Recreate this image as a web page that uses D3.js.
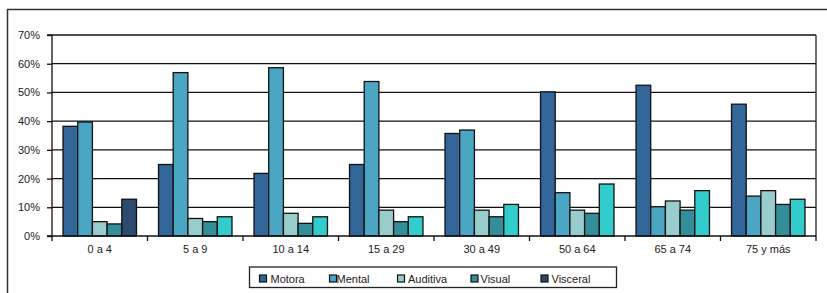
<!DOCTYPE html>
<html><head><meta charset="utf-8">
<script src="https://cdn.jsdelivr.net/npm/d3@7"></script>
<style>
html,body{margin:0;padding:0;background:#fff;}
svg{display:block;font-family:"Liberation Sans",Arial,sans-serif;}
</style></head>
<body><svg id="c" width="827" height="293"></svg>
<script>
const categories = ["0 a 4","5 a 9","10 a 14","15 a 29","30 a 49","50 a 64","65 a 74","75 y más"];
const seriesNames = ["Motora","Mental","Auditiva","Visual","Visceral"];
const motora   = [38.2, 24.9, 21.8, 24.9, 35.7, 50.2, 52.5, 45.9];
const mental   = [39.7, 56.9, 58.6, 53.8, 36.9, 15.1, 10.2, 13.9];
const auditiva = [5.0, 6.1, 7.9, 9.0, 9.0, 9.0, 12.2, 15.8];
const visual   = [4.2, 5.0, 4.4, 5.0, 6.7, 7.9, 9.0, 11.0];
const visceral = [12.8, 6.7, 6.7, 6.7, 11.0, 18.1, 15.8, 12.8];
const yTicks = [0,10,20,30,40,50,60,70];

const seriesValues = [motora, mental, auditiva, visual, visceral];
const colors = ["#336699","#4ba6c3","#99cccc","#338e99","#2e4a6e"];
const visceralPointColor = (i) => i === 0 ? "#2e4a6e" : "#33cccc";

const svg = d3.select("#c");
// outer frame
svg.append("path").attr("d","M7.5,293 L7.5,9.5 L827,9.5").attr("fill","none").attr("stroke","#333").attr("stroke-width",1.5);

const L = 52, R = 816, T = 35, B = 236;
const x = d3.scaleBand().domain(categories).range([L, R]).padding(0);
const y = d3.scaleLinear().domain([0,70]).range([B, T]);

// gridlines
svg.append("g").selectAll("line").data(yTicks.filter(d=>d>0)).join("line")
  .attr("x1", L).attr("x2", R).attr("y1", d=>y(d)).attr("y2", d=>y(d))
  .attr("stroke","#111").attr("stroke-width",1.3);
// right border
svg.append("line").attr("x1",R).attr("x2",R).attr("y1",T).attr("y2",B).attr("stroke","#222").attr("stroke-width",1.3);

// bars
const bw = x.bandwidth() / 6.5;
const gapOff = (x.bandwidth() - 5*bw)/2;
const bars = svg.append("g");
seriesValues.forEach((vals, s) => {
  bars.selectAll(null).data(vals).join("rect")
    .attr("x", (d,i) => x(categories[i]) + gapOff + s*bw)
    .attr("y", d => y(d))
    .attr("width", bw)
    .attr("height", d => B - y(d))
    .attr("fill", (d,i) => s === 4 ? visceralPointColor(i) : colors[s])
    .attr("stroke","#111").attr("stroke-width",1.3);
});

// y axis
const yAxis = d3.axisLeft(y).tickValues(yTicks).tickFormat(d=>d+"%").tickSize(5).tickPadding(7);
const gy = svg.append("g").attr("transform",`translate(${L},0)`).call(yAxis);
gy.select(".domain").attr("stroke","#111").attr("stroke-width",1.3).attr("d",`M-5,${T}H0V${B}H-5`);
gy.selectAll(".tick line").attr("stroke","#111").attr("stroke-width",1.3);
gy.selectAll("text").attr("font-size",11).attr("fill","#222").attr("font-family","Liberation Sans, Arial, sans-serif");

// x axis
const gx = svg.append("g").attr("transform",`translate(0,${B})`);
gx.append("line").attr("x1",L).attr("x2",R).attr("stroke","#111").attr("stroke-width",1.3);
gx.selectAll("line.t").data(d3.range(categories.length+1)).join("line").attr("class","t")
  .attr("x1", i => L + i*x.bandwidth()).attr("x2", i => L + i*x.bandwidth())
  .attr("y1",0).attr("y2",5).attr("stroke","#111").attr("stroke-width",1.3);
gx.selectAll("text").data(categories).join("text")
  .attr("x", d => x(d) + x.bandwidth()/2).attr("y", 17)
  .attr("text-anchor","middle").attr("font-size",11).attr("fill","#222").text(d=>d);

// legend
const lg = svg.append("g");
lg.append("rect").attr("x",249.5).attr("y",267).attr("width",367).attr("height",20.5)
  .attr("fill","#fff").attr("stroke","#222").attr("stroke-width",1.3);
const legX = [259.5, 329.5, 397.5, 471, 541];
const legTX = [270.5, 336.5, 408, 480.5, 551.5];
seriesNames.forEach((n,i) => {
  lg.append("rect").attr("x",legX[i]).attr("y",275).attr("width",7).attr("height",7)
    .attr("fill",colors[i]).attr("stroke","#111").attr("stroke-width",1.2);
  lg.append("text").attr("x",legTX[i]).attr("y",282.5).attr("font-size",11).attr("fill","#222").text(n);
});
</script></body></html>
